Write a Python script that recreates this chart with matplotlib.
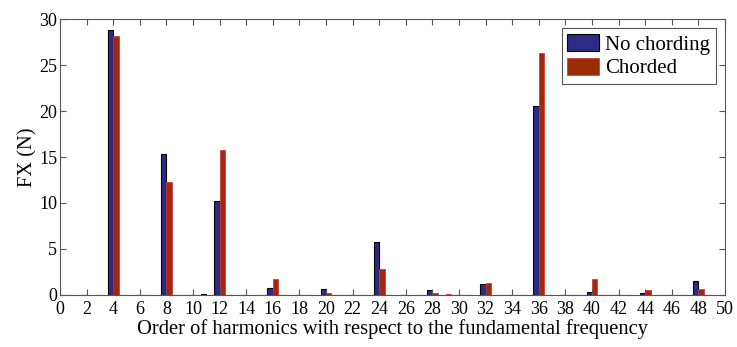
import matplotlib.pyplot as plt
import numpy as np

plt.rcParams["font.family"] = ["Liberation Serif", "DejaVu Serif"]

# harmonic orders with non-zero content
orders = [4, 8, 11, 12, 16, 20, 24, 28, 29, 32, 36, 40, 44, 48]
no_chording = [28.8, 15.3, 0.15, 10.2, 0.8, 0.6, 5.8, 0.5, 0.0, 1.2, 20.5, 0.3, 0.2, 1.5]
chorded = [28.2, 12.3, 0.0, 15.8, 1.7, 0.2, 2.8, 0.2, 0.1, 1.3, 26.3, 1.7, 0.5, 0.6]

all_orders = np.arange(1, 50)
fx_a = np.zeros(len(all_orders))
fx_b = np.zeros(len(all_orders))
for h, a, b in zip(orders, no_chording, chorded):
    fx_a[h - 1] = a
    fx_b[h - 1] = b

fig = plt.figure(figsize=(7.37, 3.47), dpi=100)
ax = fig.add_axes([0.0814, 0.150, 0.9023, 0.795])

w = 0.4
ax.bar(all_orders - w / 2, fx_a, width=w, color="#2e2a86", edgecolor="black",
       linewidth=0.8, label="No chording")
ax.bar(all_orders + w / 2, fx_b, width=w, color="#a3260f", edgecolor="#c8403a",
       linewidth=0.6, label="Chorded")

ax.set_xlim(0, 50)
ax.set_ylim(0, 30)
ax.set_xticks(np.arange(0, 51, 2))
ax.set_yticks(np.arange(0, 31, 5))
ax.tick_params(direction="in", top=True, right=True, labelsize=13, length=4,
               color="#555555")
ax.tick_params(axis="x", pad=4)
ax.tick_params(axis="y", pad=2)
for s in ax.spines.values():
    s.set_color("#555555")
    s.set_linewidth(0.8)

ax.set_xlabel("Order of harmonics with respect to the fundamental frequency",
              fontsize=14.8, labelpad=1)
ax.set_ylabel("FX (N)", fontsize=14.8, labelpad=1)

leg = ax.legend(loc="upper right", fontsize=15, fancybox=False, framealpha=1,
                edgecolor="#555555", handlelength=1.55, handleheight=0.9,
                borderpad=0.25, labelspacing=0.15, handletextpad=0.3,
                borderaxespad=0.45)
leg.get_frame().set_linewidth(0.8)
leg.legend_handles[1].set_facecolor("#9a2c05")

fig.savefig("out.png", dpi=100)
